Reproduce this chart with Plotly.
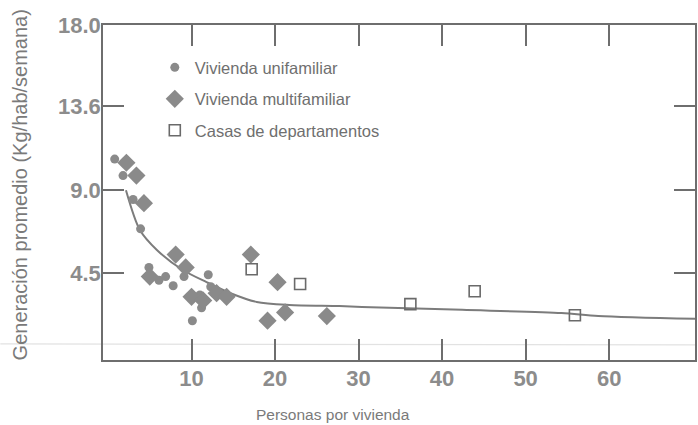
import plotly.graph_objects as go

# Vivienda unifamiliar (personas, kg/hab/semana)
uni_x = [0.8, 1.8, 3.0, 3.9, 4.9, 6.1, 6.9, 7.8, 9.1, 10.1, 11.2, 12.0, 12.3, 11.0]
uni_y = [10.7, 9.8, 8.5, 6.9, 4.8, 4.1, 4.3, 3.8, 4.3, 1.9, 2.6, 4.4, 3.75, 3.3]

# Vivienda multifamiliar
multi_x = [2.2, 3.4, 4.3, 5.0, 8.1, 9.3, 10.0, 11.4, 13.0, 14.2, 17.1, 20.3, 19.1, 21.2, 26.2]
multi_y = [10.5, 9.8, 8.3, 4.3, 5.5, 4.8, 3.2, 3.0, 3.4, 3.2, 5.5, 4.0, 1.9, 2.35, 2.15]

# Casas de departamentos
depto_x = [17.2, 23.0, 36.2, 43.9, 55.9]
depto_y = [4.7, 3.9, 2.8, 3.5, 2.2]

# Fitted trend curve
curve_x = [2.15, 3.8, 5.85, 8.95, 11.8, 14.6, 17.8, 21.7, 27.7, 30.4, 42.4, 54.3, 58.7, 70.3]
curve_y = [9.0, 6.85, 5.75, 4.66, 4.0, 3.41, 2.92, 2.76, 2.7, 2.65, 2.49, 2.32, 2.16, 2.0]

x_ticks = [10, 20, 30, 40, 50, 60]
y_ticks = [4.5, 9.0, 13.6, 18.0]
y_tick_text = ["4.5", "9.0", "13.6", "18.0"]

GREY = "#8a8a8a"
TEXT = "#7a7a7a"
AXIS = "#6e6e6e"
FONT = "Liberation Sans, Arial, sans-serif"

fig = go.Figure()

fig.add_trace(go.Scatter(
    x=curve_x, y=curve_y, mode="lines", line=dict(color="#7c7c7c", width=2, shape="spline", smoothing=0.8),
    showlegend=False, hoverinfo="skip"))

fig.add_trace(go.Scatter(
    x=uni_x, y=uni_y, mode="markers", name="Vivienda unifamiliar", legendgroup="a",
    marker=dict(symbol="circle", size=9, color=GREY)))

fig.add_trace(go.Scatter(
    x=multi_x, y=multi_y, mode="markers", name="Vivienda multifamiliar", legendgroup="b",
    marker=dict(symbol="diamond", size=14, color=GREY)))

fig.add_trace(go.Scatter(
    x=depto_x, y=depto_y, mode="markers", name="Casas de departamentos", legendgroup="c",
    marker=dict(symbol="square-open", size=11, color="#6a6a6a", line=dict(width=1.6))))

axis_common = dict(
    showgrid=False, zeroline=False, showline=True, linecolor=AXIS, linewidth=1.5,
    mirror="ticks", ticks="inside", tickcolor=AXIS, tickwidth=1.5,
    tickfont=dict(family=FONT, size=22, color="#8c8c8c", weight="bold"),
)

fig.update_xaxes(range=[-0.6, 70.28], tickvals=x_ticks, ticklen=21, ticklabelstandoff=-2, **axis_common)
fig.update_yaxes(range=[-0.24, 18.0], tickvals=y_ticks, ticktext=y_tick_text, ticklen=21,
                 ticklabelstandoff=-4, **axis_common)

fig.add_annotation(text="Generación promedio (Kg/hab/semana)", xref="paper", yref="paper",
                   x=-0.1397, y=0.522, xanchor="center", yanchor="middle", textangle=-90,
                   showarrow=False, font=dict(family=FONT, size=20, color=TEXT))
fig.add_annotation(text="Personas por vivienda", xref="paper", yref="paper",
                   x=0.389, y=-0.164, xanchor="center", yanchor="middle",
                   showarrow=False, font=dict(family=FONT, size=15.5, color=TEXT))

# faint rule running across the lower part of the page
fig.add_shape(type="line", xref="paper", yref="paper", x0=-0.1734, x1=1.0, y0=0.048, y1=0.045,
              line=dict(color="#e2e2e2", width=1.2), layer="below")

fig.update_layout(
    width=698, height=425,
    margin=dict(l=103, r=1, t=25, b=65),
    paper_bgcolor="white", plot_bgcolor="white",
    font=dict(family=FONT, color=TEXT),
    legend=dict(x=0.0875, y=0.925, xanchor="left", yanchor="top", traceorder="grouped",
                tracegroupgap=7, bgcolor="rgba(0,0,0,0)",
                font=dict(family=FONT, size=16.5, color="#6f6f6f")),
)

fig.write_html("out.html")
